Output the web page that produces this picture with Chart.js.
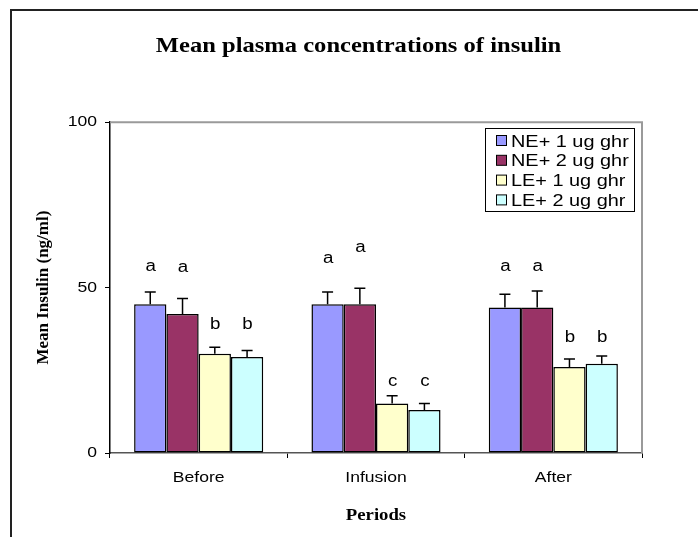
<!DOCTYPE html>
<html>
<head>
<meta charset="utf-8">
<title>Mean plasma concentrations of insulin</title>
<script src="https://cdn.jsdelivr.net/npm/chart.js@4.4.1/dist/chart.umd.min.js"></script>
<style>
    html, body { margin: 0; padding: 0; background: #ffffff; }
    #wrap { width: 698px; height: 537px; }
</style>
</head>
<body>
<div id="wrap"><canvas id="insulinChart" width="698" height="537"></canvas></div>
<script>
// Данные с картинки
const periods = ['Before', 'Infusion', 'After'];
const seriesNames = ['NE+ 1 ug ghr', 'NE+ 2 ug ghr', 'LE+ 1 ug ghr', 'LE+ 2 ug ghr'];

const ne1Values = [45, 45, 44];
const ne2Values = [42, 45, 44];
const le1Values = [30, 15, 26];
const le2Values = [29, 13, 27];

// Верхняя ошибка (SEM)
const ne1Errors = [3.7, 3.7, 4.0];
const ne2Errors = [4.7, 4.8, 5.0];
const le1Errors = [2.0, 2.3, 2.4];
const le2Errors = [2.0, 2.0, 2.3];

// Буквы значимости и их уровень по оси Y
const ne1Letters = ['a', 'a', 'a'];
const ne2Letters = ['a', 'a', 'a'];
const le1Letters = ['b', 'c', 'b'];
const le2Letters = ['b', 'c', 'b'];
const ne1LetterLevels = [56.5, 58.8, 56.5];
const ne2LetterLevels = [56.1, 62.1, 56.5];
const le1LetterLevels = [38.8, 21.5, 35.0];
const le2LetterLevels = [38.8, 21.5, 35.0];

const yTicks = [0, 50, 100];

const colors = ['#9999ff', '#993366', '#ffffcc', '#ccffff'];

// В оригинале горизонтальный текст растянут по ширине
const stretchX = 1.17;

function makeDataset(i, values, errors, letters, levels) {
    return {
        label: seriesNames[i],
        data: values,
        errors: errors,
        letters: letters,
        letterLevels: levels,
        backgroundColor: colors[i],
        borderColor: '#000000',
        borderWidth: 1.5,
        borderSkipped: false,
        barPercentage: 1.0,
        categoryPercentage: 0.728
    };
}

function stretchText(ctx) {
    const origFill = ctx.fillText.bind(ctx);
    ctx.fillText = function (text, x, y, maxWidth) {
        const m = ctx.getTransform();
        if (Math.abs(m.b) > 1e-6 || Math.abs(m.c) > 1e-6) {
            // повёрнутый текст (подпись оси Y) не трогаем
            return maxWidth === undefined ? origFill(text, x, y) : origFill(text, x, y, maxWidth);
        }
        ctx.save();
        ctx.translate(x, y);
        ctx.scale(stretchX, 1);
        if (maxWidth === undefined) origFill(text, 0, 0);
        else origFill(text, 0, 0, maxWidth / stretchX);
        ctx.restore();
    };
}

// Рамка, ошибки, буквы и легенда
const extrasPlugin = {
    id: 'extras',
    afterLayout(chart) {
        // заголовок в оригинале сдвинут вправо
        if (chart.titleBlock) {
            chart.titleBlock.left = 75;
            chart.titleBlock.right = 642;
        }
    },
    beforeDraw(chart) {
        const ctx = chart.ctx;
        ctx.save();
        ctx.fillStyle = '#ffffff';
        ctx.fillRect(0, 0, chart.width, chart.height);
        ctx.strokeStyle = '#222222';
        ctx.lineWidth = 2;
        ctx.beginPath();
        ctx.moveTo(11, chart.height);
        ctx.lineTo(11, 10);
        ctx.lineTo(chart.width, 10);
        ctx.stroke();
        ctx.restore();
    },
    beforeDatasetsDraw(chart) {
        const ctx = chart.ctx;
        const area = chart.chartArea;
        ctx.save();
        ctx.strokeStyle = '#9a9a9a';
        ctx.lineWidth = 2;
        ctx.beginPath();
        ctx.moveTo(area.left, area.top);
        ctx.lineTo(area.right, area.top);
        ctx.lineTo(area.right, area.bottom);
        ctx.stroke();
        ctx.restore();
    },
    afterDatasetsDraw(chart) {
        const ctx = chart.ctx;
        const y = chart.scales.y;
        ctx.save();
        chart.data.datasets.forEach((ds, i) => {
            const meta = chart.getDatasetMeta(i);
            meta.data.forEach((bar, j) => {
                const top = y.getPixelForValue(ds.data[j]);
                const errTop = y.getPixelForValue(ds.data[j] + ds.errors[j]);
                ctx.strokeStyle = '#000000';
                ctx.lineWidth = 1.5;
                ctx.beginPath();
                ctx.moveTo(bar.x, top);
                ctx.lineTo(bar.x, errTop);
                ctx.moveTo(bar.x - 5.5, errTop);
                ctx.lineTo(bar.x + 5.5, errTop);
                ctx.stroke();

                ctx.fillStyle = '#000000';
                ctx.font = '16px "Liberation Sans", Arial, sans-serif';
                ctx.textAlign = 'center';
                ctx.textBaseline = 'middle';
                ctx.fillText(ds.letters[j], bar.x + 0.5, y.getPixelForValue(ds.letterLevels[j]));
            });
        });
        ctx.restore();
    },
    afterDraw(chart) {
        const ctx = chart.ctx;
        ctx.save();
        ctx.strokeStyle = '#000000';
        ctx.lineWidth = 1;
        ctx.fillStyle = '#ffffff';
        ctx.fillRect(485.5, 128.5, 149, 83);
        ctx.strokeRect(485.5, 128.5, 149, 83);
        ctx.font = '17px "Liberation Sans", Arial, sans-serif';
        ctx.textAlign = 'left';
        ctx.textBaseline = 'middle';
        chart.data.datasets.forEach((ds, i) => {
            const cy = 141 + i * 19.8;
            ctx.fillStyle = ds.backgroundColor;
            ctx.fillRect(496.5, cy - 5.5, 10, 10);
            ctx.strokeRect(496.5, cy - 5.5, 10, 10);
            ctx.fillStyle = '#000000';
            ctx.fillText(ds.label, 511, cy + 1);
        });
        ctx.restore();
    }
};

const ctx = document.getElementById('insulinChart').getContext('2d');
stretchText(ctx);

const chart = new Chart(ctx, {
    type: 'bar',
    data: {
        labels: periods,
        datasets: [
            makeDataset(0, ne1Values, ne1Errors, ne1Letters, ne1LetterLevels),
            makeDataset(1, ne2Values, ne2Errors, ne2Letters, ne2LetterLevels),
            makeDataset(2, le1Values, le1Errors, le1Letters, le1LetterLevels),
            makeDataset(3, le2Values, le2Errors, le2Letters, le2LetterLevels)
        ]
    },
    options: {
        responsive: false,
        animation: false,
        layout: { padding: { left: 20, right: 56, top: 0, bottom: 0 } },
        plugins: {
            legend: { display: false },
            tooltip: { enabled: false },
            title: {
                display: true,
                text: 'Mean plasma concentrations of insulin',
                color: '#000000',
                font: { family: '"Liberation Serif", "Times New Roman", serif', size: 21, weight: 'bold' },
                padding: { top: 34, bottom: 63 }
            }
        },
        scales: {
            x: {
                grid: { display: true, drawOnChartArea: false, drawTicks: true, tickLength: 5, color: '#000000', offset: true },
                border: { display: true, color: '#555555', width: 1.5 },
                ticks: {
                    color: '#000000',
                    padding: 11,
                    font: { family: '"Liberation Sans", Arial, sans-serif', size: 15 }
                },
                title: {
                    display: true,
                    text: 'Periods',
                    color: '#000000',
                    font: { family: '"Liberation Serif", "Times New Roman", serif', size: 16, weight: 'bold' },
                    padding: { top: 0, bottom: 12 }
                },
                afterFit(scale) { scale.height = 84; }
            },
            y: {
                min: 0,
                max: 100,
                afterBuildTicks(scale) { scale.ticks = yTicks.map(v => ({ value: v })); },
                grid: { display: true, drawOnChartArea: false, drawTicks: true, tickLength: 5, color: '#000000' },
                border: { display: true, color: '#000000', width: 1.5 },
                ticks: {
                    color: '#000000',
                    padding: 8,
                    font: { family: '"Liberation Sans", Arial, sans-serif', size: 15 }
                },
                title: {
                    display: true,
                    text: 'Mean Insulin (ng/ml)',
                    color: '#000000',
                    font: { family: '"Liberation Serif", "Times New Roman", serif', size: 17, weight: 'bold' },
                    padding: { top: 13, bottom: 0 }
                },
                afterFit(scale) { scale.width = 90; }
            }
        }
    },
    plugins: [extrasPlugin]
});
</script>
</body>
</html>
